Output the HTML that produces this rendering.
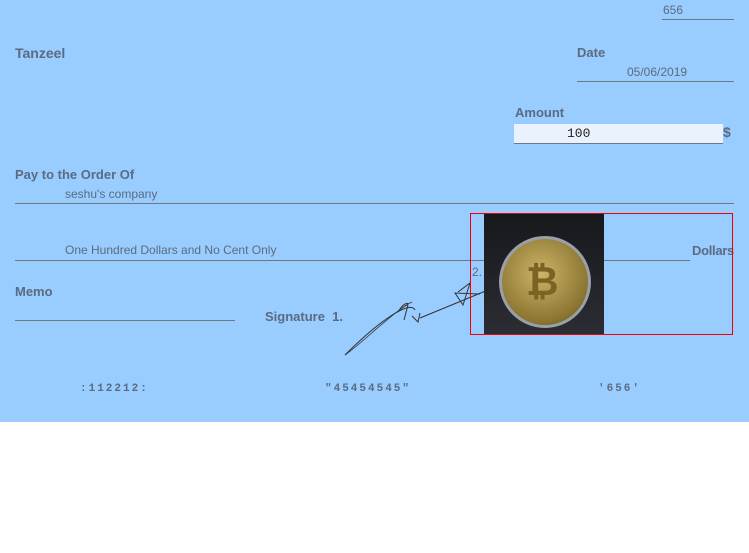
<!DOCTYPE html>
<html><head><meta charset="utf-8"><style>
body{margin:0;width:749px;height:553px;background:#fff;font-family:"Liberation Sans",sans-serif;overflow:hidden}
#check{position:absolute;left:0;top:0;width:749px;height:422px;background:#99ccff;color:#5b6b80}
.a{position:absolute;white-space:nowrap}
.b{font-weight:bold;font-size:13px}
.t{font-size:12px}
.ln{position:absolute;height:1px;background:#6f7880}
.micr{font-family:"Liberation Mono",monospace;font-size:11px;font-weight:bold;letter-spacing:2px}
</style></head><body>
<div id="check">
<div class="a t" style="left:663px;top:3px">656</div>
<div class="ln" style="left:662px;top:19px;width:72px"></div>
<div class="a b" style="left:15px;top:45px;font-size:14px">Tanzeel</div>
<div class="a b" style="left:577px;top:45px">Date</div>
<div class="a t" style="left:627px;top:65px">05/06/2019</div>
<div class="ln" style="left:577px;top:81px;width:157px"></div>
<div class="a b" style="left:515px;top:105px">Amount</div>
<div class="a" style="left:514px;top:124px;width:209px;height:19px;background:#eaf2fd;border-bottom:1px solid #6f7880"><span style="position:absolute;left:53px;top:2px;font-family:'Liberation Mono',monospace;font-size:13px;color:#222">100</span></div>
<div class="a b" style="left:723px;top:124px;font-size:14px">$</div>
<div class="a b" style="left:15px;top:167px">Pay to the Order Of</div>
<div class="a t" style="left:65px;top:187px">seshu's company</div>
<div class="ln" style="left:15px;top:203px;width:719px"></div>
<div class="a t" style="left:65px;top:243px">One Hundred Dollars and No Cent Only</div>
<div class="ln" style="left:15px;top:260px;width:675px"></div>
<div class="a b" style="left:692px;top:243px;letter-spacing:-0.3px">Dollars</div>
<div class="a b" style="left:15px;top:284px">Memo</div>
<div class="ln" style="left:15px;top:320px;width:220px"></div>
<div class="a b" style="left:265px;top:309px">Signature&nbsp; 1.</div>
<div class="a t" style="left:472px;top:265px">2.</div>
<svg class="a" style="left:0;top:0" width="749" height="422">
<path d="M345 355 C380 320 410 300 415 310 M398 312 C405 300 412 303 405 306 M408 305 L404 320 M412 316 L418 322 L420 313 M420 318 L488 290 M458 292 L470 283 L463 305 L455 293 L480 294" fill="none" stroke="#333" stroke-width="1"/>
<path d="M345 355 C360 345 395 310 412 302" fill="none" stroke="#333" stroke-width="0.8"/>
</svg>
<div class="a" style="left:470px;top:213px;width:261px;height:120px;border:1px solid #e00"></div>
<div class="a" style="left:484px;top:214px;width:120px;height:120px;background:linear-gradient(#16181c,#2b2d33)">
<div class="a" style="left:15px;top:22px;width:92px;height:92px;border-radius:50%;border:3px solid #9aa0a8;box-sizing:border-box;background:radial-gradient(circle at 45% 40%,#cdb468,#8a7430 70%,#4a3e1c)"></div>
<div class="a" style="left:42px;top:46px;font-size:40px;font-weight:bold;color:#7a6424">₿</div>
</div>
<div class="a micr" style="left:80px;top:383px">:112212:</div>
<div class="a micr" style="left:325px;top:383px">"45454545"</div>
<div class="a micr" style="left:598px;top:383px">'656'</div>
</div>
</body></html>
